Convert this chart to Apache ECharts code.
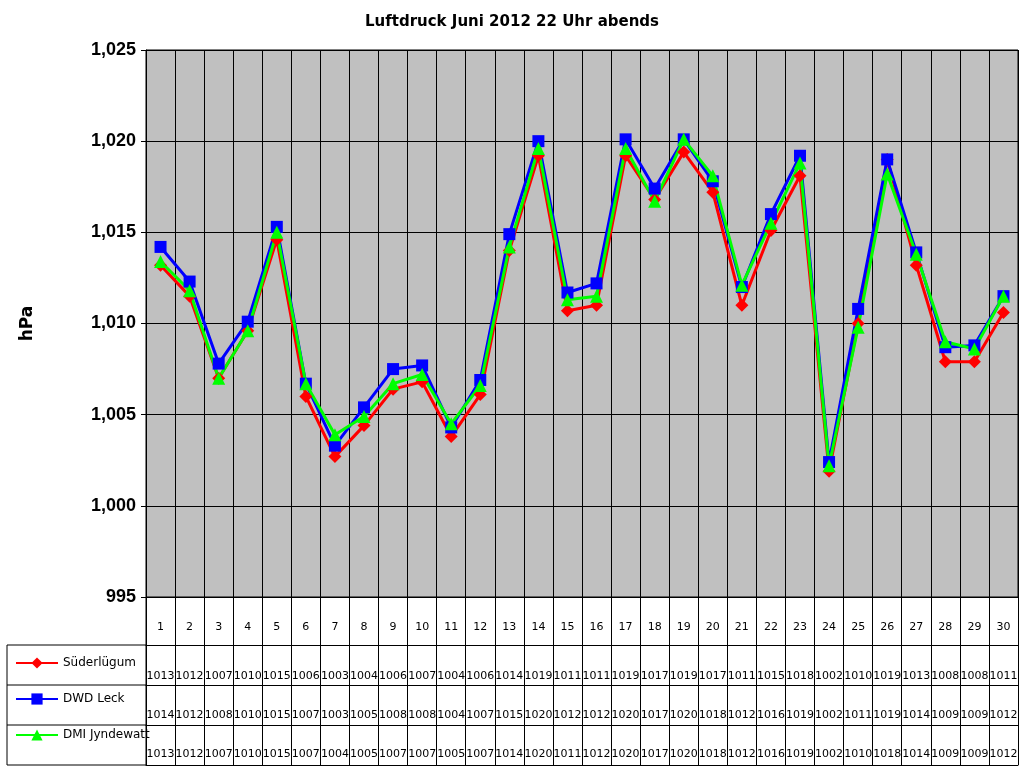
<!DOCTYPE html>
<html><head><meta charset="utf-8">
<script src="https://cdn.jsdelivr.net/npm/echarts@6/dist/echarts.min.js"></script>
<style>html,body{margin:0;padding:0;background:#fff}#c{width:1024px;height:768px}</style>
</head><body><div id="c"></div>
<script>
var days = [];
for (var i = 1; i <= 30; i++) days.push(String(i));
var sued = [1013.2,1011.5,1007.0,1009.6,1014.6,1006.0,1002.7,1004.4,1006.4,1006.8,1003.8,1006.1,1014.0,1019.2,1010.7,1011.0,1019.2,1016.8,1019.4,1017.2,1011.0,1015.1,1018.1,1001.9,1010.0,1019.0,1013.2,1007.9,1007.9,1010.6];
var leck = [1014.2,1012.3,1007.8,1010.1,1015.3,1006.7,1003.3,1005.4,1007.5,1007.7,1004.3,1006.9,1014.9,1020.0,1011.7,1012.2,1020.1,1017.4,1020.1,1017.8,1012.0,1016.0,1019.2,1002.4,1010.8,1019.0,1013.9,1008.7,1008.8,1011.5];
var dmi = [1013.4,1011.8,1007.0,1009.6,1015.0,1006.7,1003.9,1004.9,1006.7,1007.2,1004.5,1006.6,1014.2,1019.6,1011.3,1011.5,1019.6,1016.7,1020.1,1018.1,1012.1,1015.5,1018.8,1002.2,1009.8,1018.2,1013.8,1009.0,1008.6,1011.5];
var suedT = ['1013','1012','1007','1010','1015','1006','1003','1004','1006','1007','1004','1006','1014','1019','1011','1011','1019','1017','1019','1017','1011','1015','1018','1002','1010','1019','1013','1008','1008','1011'];
var leckT = ['1014','1012','1008','1010','1015','1007','1003','1005','1008','1008','1004','1007','1015','1020','1012','1012','1020','1017','1020','1018','1012','1016','1019','1002','1011','1019','1014','1009','1009','1012'];
var dmiT = ['1013','1012','1007','1010','1015','1007','1004','1005','1007','1007','1005','1007','1014','1020','1011','1012','1020','1017','1020','1018','1012','1016','1019','1002','1010','1018','1014','1009','1009','1012'];
var yTicks = {min: 995, max: 1025, interval: 5};

var ff = 'Verdana, "DejaVu Sans", sans-serif';
function tableAxis(data, offset, margin, showTick) {
  return {
    type: 'category', data: data, position: 'bottom', offset: offset, gridIndex: 0,
    axisLine: {show: true, lineStyle: {color: '#000', width: 1}},
    axisTick: {show: !!showTick, length: 171, interval: 0, lineStyle: {color: '#000'}},
    axisLabel: {interval: 0, margin: margin, color: '#000', fontSize: 11, fontFamily: ff},
    splitLine: {show: false}
  };
}
var xAxes = [
  {type: 'category', data: days, position: 'bottom', boundaryGap: true,
   axisLine: {show: true, lineStyle: {color: '#000'}},
   axisTick: {show: true, length: 168, interval: 0, lineStyle: {color: '#000'}},
   axisLabel: {interval: 0, margin: 25, color: '#000', fontSize: 11, fontFamily: ff},
   splitLine: {show: true, interval: 0, lineStyle: {color: '#000', width: 1}}},
  tableAxis(suedT, 48, 26),
  tableAxis(leckT, 88, 25),
  tableAxis(dmiT, 128, 24),
  tableAxis(dmiT.map(function(){return '';}), 168, 0)
];
var chart = echarts.init(document.getElementById('c'));
function ser(name, data, color, symbol, size, xi) {
  return {name: name, type: 'line', data: data, xAxisIndex: 0, symbol: symbol, symbolSize: size,
    lineStyle: {color: color, width: 3}, itemStyle: {color: color}, animation: false};
}
chart.setOption({
  animation: false,
  title: {text: 'Luftdruck Juni 2012 22 Uhr abends', left: 'center', top: 10,
    textStyle: {fontSize: 15, fontWeight: 'bold', fontFamily: ff, color: '#000'}},
  grid: {left: 146, right: 6, top: 50, bottom: 171, show: true, backgroundColor: '#c0c0c0', borderColor: '#000', borderWidth: 1},
  legend: {orient: 'vertical', left: 10, top: 652, itemGap: 24, itemWidth: 42, itemHeight: 14,
    data: ['Süderlügum', 'DWD Leck', 'DMI Jyndewatt'],
    textStyle: {fontSize: 12, fontFamily: ff, color: '#000', padding: [14, 0, 0, 0]}},
  xAxis: xAxes,
  yAxis: {type: 'value', min: yTicks.min, max: yTicks.max, interval: yTicks.interval,
    name: 'hPa', nameLocation: 'middle', nameGap: 110, nameRotate: 90,
    nameTextStyle: {fontSize: 17, fontWeight: 'bold', fontFamily: ff, color: '#000'},
    axisLine: {show: true, lineStyle: {color: '#000'}},
    axisTick: {show: true, length: 5, lineStyle: {color: '#000'}},
    axisLabel: {fontSize: 18, fontWeight: 'bold', fontFamily: 'Arial, "Liberation Sans", sans-serif', color: '#000', margin: 10},
    splitLine: {show: true, lineStyle: {color: '#000', width: 1}}},
  series: [
    ser('Süderlügum', sued, '#ff0000', 'diamond', 13),
    ser('DWD Leck', leck, '#0000ff', 'rect', 12),
    ser('DMI Jyndewatt', dmi, '#00ff00', 'triangle', 13)
  ],
  graphic: [
    {type: 'line', shape: {x1: 7, y1: 645, x2: 146, y2: 645}, style: {stroke: '#000', lineWidth: 1}},
    {type: 'line', shape: {x1: 7, y1: 685, x2: 146, y2: 685}, style: {stroke: '#000', lineWidth: 1}},
    {type: 'line', shape: {x1: 7, y1: 725, x2: 146, y2: 725}, style: {stroke: '#000', lineWidth: 1}},
    {type: 'line', shape: {x1: 7, y1: 765, x2: 146, y2: 765}, style: {stroke: '#000', lineWidth: 1}},
    {type: 'line', shape: {x1: 7, y1: 645, x2: 7, y2: 765}, style: {stroke: '#000', lineWidth: 1}},
    {type: 'line', shape: {x1: 146, y1: 597, x2: 146, y2: 765}, style: {stroke: '#000', lineWidth: 1}}
  ]
});
</script></body></html>
